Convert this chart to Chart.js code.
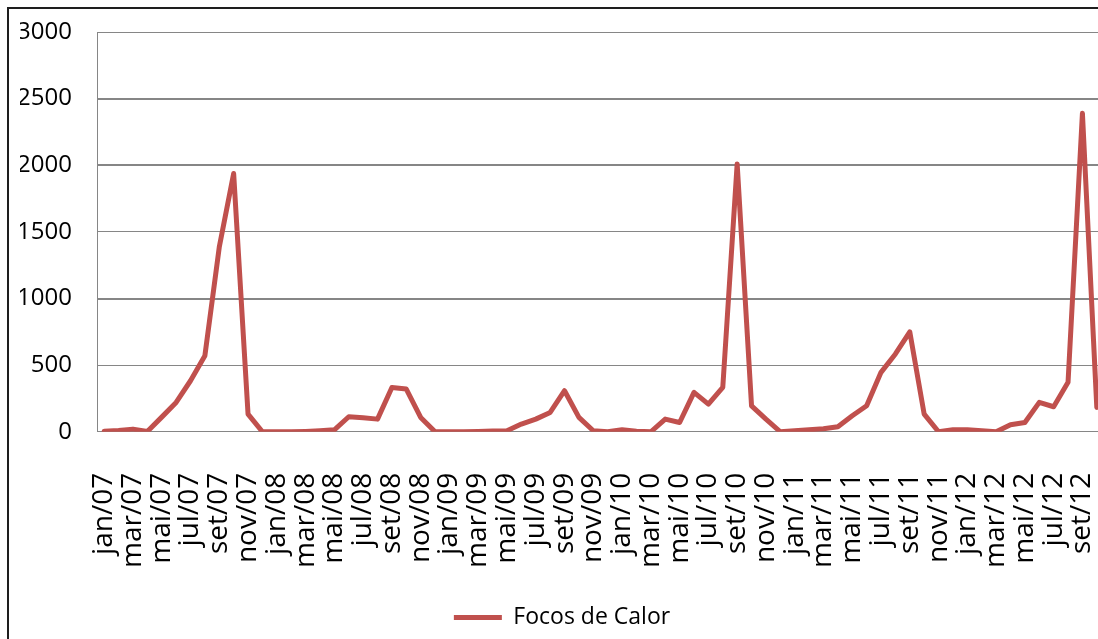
<!DOCTYPE html>
<html>
<head>
<meta charset="utf-8">
<script src="https://cdn.jsdelivr.net/npm/chart.js@4.4.1/dist/chart.umd.min.js"></script>
<style>
  html, body { margin: 0; padding: 0; background: #fff; overflow: hidden; }
  body { width: 1098px; height: 639px; position: relative; }
  #moldura { position: absolute; left: 7px; top: 7px; width: 1200px; height: 800px; border: 2px solid #1e1e1e; }
  #grafico { position: absolute; left: 0; top: 0; }
</style>
</head>
<body>
<div id="moldura"></div>
<canvas id="grafico" width="1104" height="639"></canvas>
<script>
// Meses de jan/07 a out/12
const meses = [
  'jan/07', 'fev/07', 'mar/07', 'abr/07', 'mai/07', 'jun/07', 'jul/07', 'ago/07', 'set/07', 'out/07', 'nov/07', 'dez/07',
  'jan/08', 'fev/08', 'mar/08', 'abr/08', 'mai/08', 'jun/08', 'jul/08', 'ago/08', 'set/08', 'out/08', 'nov/08', 'dez/08',
  'jan/09', 'fev/09', 'mar/09', 'abr/09', 'mai/09', 'jun/09', 'jul/09', 'ago/09', 'set/09', 'out/09', 'nov/09', 'dez/09',
  'jan/10', 'fev/10', 'mar/10', 'abr/10', 'mai/10', 'jun/10', 'jul/10', 'ago/10', 'set/10', 'out/10', 'nov/10', 'dez/10',
  'jan/11', 'fev/11', 'mar/11', 'abr/11', 'mai/11', 'jun/11', 'jul/11', 'ago/11', 'set/11', 'out/11', 'nov/11', 'dez/11',
  'jan/12', 'fev/12', 'mar/12', 'abr/12', 'mai/12', 'jun/12', 'jul/12', 'ago/12', 'set/12', 'out/12'
];

// Focos de calor por mês
const focos = [
  5, 10, 20, 2, 110, 220, 383, 571, 1386, 1938, 133, 0,
  0, 0, 3, 8, 15, 113, 105, 95, 333, 321, 108, 0,
  0, 0, 3, 5, 8, 58, 95, 145, 308, 108, 8, 0,
  15, 5, 0, 95, 70, 296, 208, 333, 2010, 195, 95, 0,
  8, 15, 23, 38, 120, 195, 446, 584, 750, 133, 0, 15,
  15, 8, 0, 53, 70, 221, 188, 371, 2390, 183
];

const escalaY = [0, 500, 1000, 1500, 2000, 2500, 3000];

const vermelho = '#C0504D';
const cinza = '#868686';

const ctx = document.getElementById('grafico');
const grafico = new Chart(ctx, {
  type: 'line',
  data: {
    labels: meses,
    datasets: [{
      label: 'Focos de Calor',
      data: focos,
      borderColor: vermelho,
      backgroundColor: vermelho,
      borderWidth: 5,
      pointRadius: 0,
      tension: 0,
      borderJoinStyle: 'round',
      borderCapStyle: 'round'
    }]
  },
  options: {
    responsive: false,
    animation: false,
    layout: {
      padding: { top: 32, left: 20, right: 0, bottom: 0 }
    },
    plugins: {
      tooltip: { enabled: false },
      legend: {
        position: 'bottom',
        labels: {
          color: '#000',
          font: { family: 'Open Sans', size: 23 },
          boxWidth: 48,
          boxHeight: 5,
          generateLabels: (chart) => Chart.defaults.plugins.legend.labels.generateLabels(chart)
            .map(item => ({ ...item, lineWidth: 0 }))
        }
      }
    },
    scales: {
      x: {
        offset: true,
        grid: { display: false },
        border: { display: true, color: cinza, width: 1 },
        afterFit: (escala) => {
          escala.paddingLeft = 0;
          escala.paddingRight = 0;
          escala.height = escala.height - 5;
        },
        ticks: {
          autoSkip: false,
          maxRotation: 90,
          minRotation: 90,
          padding: 33,
          color: '#000',
          font: { family: 'Open Sans', size: 28 },
          callback: (valor, i) => (i % 2 === 0 ? meses[i] : '')
        }
      },
      y: {
        min: 0,
        max: 3000,
        afterBuildTicks: (escala) => {
          escala.ticks = escalaY.map(v => ({ value: v }));
        },
        afterFit: (escala) => {
          escala.width = 77;
          escala.paddingTop = 0;
          escala.paddingBottom = 0;
        },
        grid: {
          color: cinza,
          drawTicks: false,
          lineWidth: (c) => ([1000, 2000, 2500].includes(c.tick && c.tick.value) ? 2 : 1)
        },
        border: { display: true, color: cinza, width: 1 },
        ticks: {
          padding: 25,
          color: '#000',
          font: { family: 'Open Sans', size: 24 },
          callback: (valor) => String(valor)
        }
      }
    }
  }
});
</script>
</body>
</html>
